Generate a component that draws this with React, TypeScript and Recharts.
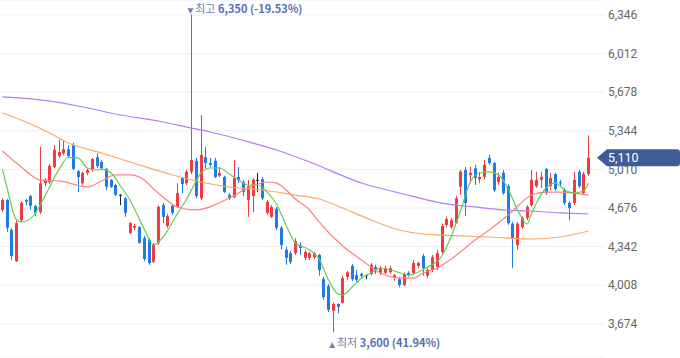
import React from 'react';
import {
  ComposedChart,
  Bar,
  Line,
  XAxis,
  YAxis,
  CartesianGrid,
  ReferenceLine,
  ReferenceDot,
} from 'recharts';

// ---- Candle data (daily OHLC) ----
const opens = [
  4660, 4745, 4485, 4215, 4570, 4745, 4780, 4695, 4640, 4890,
  4900, 5030, 5125, 5150, 5185, 5220, 4995, 4890, 4980, 5005,
  5115, 5075, 5015, 4920, 4875, 4790, 4760, 4460, 4505, 4510,
  4415, 4400, 4210, 4375, 4700, 4520, 4695, 4685, 4935, 4890,
  4990, 5085, 4760, 5115, 5065, 5085, 4955, 4945, 4790, 4770,
  4945, 4900, 4745, 4780, 4920, 4925, 4635, 4600, 4670, 4505,
  4315, 4285, 4285, 4355, 4245, 4245, 4250, 4270, 4060, 4000,
  3785, 3845, 3855, 4080, 4175, 4095, 4105, 4095, 4105, 4165,
  4115, 4115, 4120, 4070, 4060, 4010, 4115, 4115, 4175, 4260,
  4090, 4140, 4165, 4295, 4530, 4510, 4545, 4860, 5005, 4960,
  5020, 4925, 4945, 5110, 5065, 4900, 4980, 4865, 4540, 4355,
  4510, 4590, 4700, 4865, 4920, 5015, 4865, 4970, 4900, 4830,
  4720, 4720, 4990, 4805, 4970,
];
const highs = [
  4760, 4755, 4505, 4570, 4735, 4755, 4790, 4700, 5205, 4935,
  5055, 5220, 5265, 5255, 5220, 5240, 5005, 4990, 5015, 5110,
  5150, 5090, 5020, 4925, 4885, 4795, 4770, 4555, 4540, 4520,
  4435, 4415, 4375, 4700, 4720, 4625, 4710, 4890, 4945, 5005,
  6350, 5110, 5480, 5205, 5110, 5110, 5030, 4955, 4805, 5090,
  5030, 4920, 4920, 4935, 4980, 4945, 4745, 4700, 4685, 4520,
  4340, 4305, 4415, 4380, 4315, 4295, 4295, 4280, 4080, 4020,
  3860, 3850, 4090, 4130, 4190, 4140, 4115, 4100, 4200, 4185,
  4175, 4175, 4175, 4105, 4080, 4120, 4130, 4225, 4210, 4280,
  4155, 4270, 4315, 4540, 4600, 4590, 4780, 5005, 5030, 5030,
  5050, 4990, 5090, 5135, 5075, 4980, 5005, 4885, 4555, 4555,
  4605, 4700, 5005, 4990, 4990, 5020, 4980, 4980, 4920, 4850,
  4735, 4990, 5005, 4990, 5305,
];
const lows = [
  4640, 4470, 4225, 4210, 4555, 4700, 4660, 4605, 4625, 4865,
  4885, 5020, 5110, 5135, 5115, 5005, 4815, 4875, 4960, 4990,
  5020, 5005, 4830, 4850, 4780, 4700, 4600, 4450, 4485, 4365,
  4215, 4185, 4200, 4355, 4545, 4505, 4615, 4675, 4805, 4875,
  4970, 4760, 4745, 5020, 5030, 4935, 4945, 4805, 4745, 4760,
  4890, 4780, 4600, 4640, 4815, 4745, 4615, 4590, 4485, 4315,
  4185, 4190, 4270, 4270, 4225, 4225, 4235, 4090, 3880, 3775,
  3600, 3765, 3845, 4055, 4045, 4035, 4070, 4060, 4090, 4105,
  4095, 4105, 4105, 4045, 3990, 4000, 4080, 4095, 4155, 4090,
  4070, 4120, 4140, 4280, 4510, 4495, 4540, 4790, 4605, 4890,
  4875, 4890, 4925, 5050, 4815, 4875, 4790, 4530, 4155, 4315,
  4495, 4570, 4685, 4850, 4850, 4790, 4830, 4825, 4865, 4700,
  4570, 4700, 4850, 4790, 4955,
];
const closes = [
  4745, 4505, 4260, 4545, 4720, 4730, 4695, 4635, 4890, 4920,
  5040, 5180, 5160, 5185, 5125, 5015, 4945, 4980, 5005, 5100,
  5040, 5020, 4860, 4860, 4790, 4790, 4635, 4545, 4520, 4375,
  4235, 4200, 4355, 4685, 4600, 4605, 4635, 4805, 4885, 4990,
  5090, 4780, 5135, 5065, 5050, 4945, 4980, 4815, 4760, 4935,
  4920, 4815, 4865, 4920, 4920, 4760, 4730, 4685, 4505, 4355,
  4245, 4210, 4390, 4330, 4295, 4285, 4285, 4140, 3905, 3795,
  3845, 3820, 4070, 4120, 4060, 4055, 4090, 4095, 4185, 4140,
  4155, 4155, 4155, 4095, 4010, 4105, 4095, 4200, 4200, 4155,
  4140, 4250, 4285, 4520, 4580, 4570, 4760, 4990, 4720, 4980,
  4935, 4945, 5050, 5065, 4830, 4945, 4805, 4545, 4410, 4540,
  4590, 4685, 4920, 4920, 4945, 4805, 4935, 4840, 4890, 4720,
  4675, 4920, 4865, 4970, 5110,
];

// ---- Moving averages, [candle index, value] ----
const ma5Points = [
  [0, 5013], [1, 4849], [3, 4572], [4, 4555], [5, 4563], [7, 4633], [8, 4702],
  [10, 4858], [12, 5013], [14, 5113], [16, 5109], [18, 5022], [20, 5005],
  [21, 5013], [23, 4979], [25, 4866], [27, 4745], [30, 4494], [32, 4356],
  [34, 4425], [37, 4624], [39, 4754], [41, 4910], [42, 4979], [44, 5022],
  [46, 5022], [48, 4970], [50, 4918], [52, 4875], [54, 4875], [56, 4814],
  [58, 4711], [60, 4529], [62, 4373], [65, 4313], [67, 4235], [69, 4053],
  [71, 3932], [72, 3923], [74, 3992], [76, 4070], [78, 4113], [80, 4157],
  [83, 4131], [86, 4096], [88, 4122], [90, 4165], [93, 4261], [95, 4434],
  [97, 4659], [99, 4901], [101, 4979], [103, 4988], [105, 4962], [107, 4840],
  [109, 4659], [111, 4538], [112, 4633], [113, 4719], [115, 4849], [117, 4892],
  [119, 4832], [121, 4806], [123, 4823], [124, 4892],
];
const ma20Points = [
  [0, 5169], [4, 5031], [8, 4918], [12, 4910], [18, 4858], [21, 4910],
  [24, 4962], [27, 4962], [30, 4918], [32, 4840], [34, 4771], [37, 4685],
  [41, 4659], [48, 4762], [52, 4849], [56, 4901], [58, 4892], [62, 4754],
  [65, 4659], [67, 4555], [72, 4347], [76, 4226], [80, 4113], [84, 4070],
  [87, 4070], [89, 4113], [92, 4157], [95, 4235], [100, 4399], [103, 4486],
  [107, 4615], [112, 4788], [115, 4814], [118, 4814], [124, 4788],
];
const ma60Points = [
  [0, 5498], [5, 5420], [10, 5325], [14, 5238], [21, 5152], [29, 5048],
  [36, 4962], [41, 4910], [48, 4858], [55, 4832], [62, 4788], [67, 4754],
  [72, 4676], [78, 4572], [84, 4486], [89, 4451], [93, 4442], [103, 4425],
  [112, 4408], [118, 4425], [124, 4477],
];
const ma120Points = [
  [0, 5637], [8, 5611], [16, 5559], [25, 5481], [33, 5429], [40, 5368],
  [44, 5334], [53, 5238], [58, 5178], [65, 5074], [76, 4892], [84, 4806],
  [93, 4719], [100, 4685], [106, 4659], [112, 4650], [118, 4633], [124, 4624],
];

// ---- Axis / annotation values ----
const yTicks = [3674, 4008, 4342, 4676, 5010, 5344, 5678, 6012, 6346];
const yDomain = [3378, 6476];
const totalSlots = 128;
const lastPrice = 5110;
const highMark = { index: 40, price: 6350, label: '최고', pct: '-19.53%' };
const lowMark = { index: 70, price: 3600, label: '최저', pct: '41.94%' };

const RED = '#f23a40';
const BLUE = '#1f7ce6';
const DOJI = '#222222';
const FONT = 'Roboto, "Noto Sans CJK KR", "Noto Sans", sans-serif';
const KFONT = '"Noto Sans CJK KR", Roboto, sans-serif';

const fmt = (v: number) => v.toLocaleString('en-US');

const data = Array.from({ length: totalSlots }, (_, i) => {
  const row: any = { i };
  if (i < opens.length) {
    row.open = opens[i];
    row.high = highs[i];
    row.low = lows[i];
    row.close = closes[i];
  }
  return row;
});
const addMa = (pts: number[][], key: string) => {
  pts.forEach(([idx, v]) => {
    data[idx][key] = v;
  });
};
addMa(ma5Points, 'ma5');
addMa(ma20Points, 'ma20');
addMa(ma60Points, 'ma60');
addMa(ma120Points, 'ma120');

const Candle = (props: any) => {
  const { x, y, width, height, payload } = props;
  if (!payload || payload.high == null) return null;
  const { open, close, high, low } = payload;
  const top0 = Math.min(y, y + height);
  const h = Math.abs(height);
  const range = high - low;
  const k = range > 0 ? h / range : 0;
  const py = (v: number) => top0 + (high - v) * k;
  const color = close === open ? DOJI : close > open ? RED : BLUE;
  const left = Math.round(x);
  const cx = left + Math.floor(width / 2) + 0.5;
  const bTop = py(Math.max(open, close));
  const bBot = py(Math.min(open, close));
  return (
    <g>
      <line x1={cx} x2={cx} y1={top0} y2={top0 + h} stroke={color} strokeWidth={1} />
      <rect x={left} y={bTop} width={Math.round(width)} height={Math.max(1, bBot - bTop)} fill={color} />
    </g>
  );
};

const ExtremeLabel = (props: any) => {
  const { viewBox, mark, kind } = props;
  if (!viewBox) return null;
  const cx = viewBox.x + (viewBox.width || 0) / 2;
  const cy = viewBox.y + (viewBox.height || 0) / 2;
  const ty = kind === 'high' ? cy - 2 : cy + 15;
  const tri = kind === 'high' ? '▼' : '▲';
  return (
    <text x={cx - 4} y={ty} fontFamily={KFONT} fontSize={11}>
      <tspan fill="#6b7fb5" fontFamily='"DejaVu Sans", sans-serif' fontSize={7.5}>{tri}</tspan>
      <tspan fill="#6b7fb5" dx={2}>{mark.label} </tspan>
      <tspan fill="#5470b2" fontWeight="bold">{`${fmt(mark.price)} (${mark.pct})`}</tspan>
    </text>
  );
};

const PriceTag = (props: any) => {
  const { viewBox } = props;
  if (!viewBox) return null;
  const right = viewBox.x + viewBox.width;
  const y = viewBox.y;
  const tip = right - 8;
  const end = right + 75;
  const hh = 8.5;
  const d = `M${tip},${y} L${tip + 10},${y - hh} H${end - 3} Q${end},${y - hh} ${end},${y - hh + 3} V${y + hh - 3} Q${end},${y + hh} ${end - 3},${y + hh} H${tip + 10} Z`;
  return (
    <g>
      <path d={d} fill="#3f5b98" />
      <text x={tip + 11} y={y + 4.5} fill="#ffffff" fontFamily={FONT} fontSize={12.5}>
        {fmt(lastPrice)}
      </text>
    </g>
  );
};

export default function App() {
  return (
    <div style={{ position: 'absolute', left: 0, top: 0, width: 680, height: 358, background: '#fff' }}>
      <ComposedChart
        width={680}
        height={358}
        data={data}
        margin={{ top: 0, right: 0, bottom: 0, left: 0 }}
      >
        <CartesianGrid vertical={false} stroke="#eef0f5" />
        <XAxis dataKey="i" type="category" hide />
        <YAxis
          orientation="right"
          width={75}
          domain={yDomain}
          ticks={yTicks}
          interval={0}
          allowDataOverflow
          axisLine={false}
          tickLine={false}
          tickSize={0}
          tickMargin={3}
          tickFormatter={fmt}
          tick={{ fill: '#666', fontSize: 12, fontFamily: FONT }}
        />
        <Bar
          dataKey={(d: any) => (d.high != null ? [d.low, d.high] : null)}
          barSize={3}
          shape={<Candle />}
          isAnimationActive={false}
        />
        <Line dataKey="ma120" type="monotone" stroke="#b47cf3" strokeWidth={1.2} dot={false} activeDot={false} connectNulls isAnimationActive={false} />
        <Line dataKey="ma60" type="monotone" stroke="#f6aa66" strokeWidth={1.2} dot={false} activeDot={false} connectNulls isAnimationActive={false} />
        <Line dataKey="ma20" type="monotone" stroke="#f58686" strokeWidth={1.2} dot={false} activeDot={false} connectNulls isAnimationActive={false} />
        <Line dataKey="ma5" type="monotone" stroke="#66cc52" strokeWidth={1.2} dot={false} activeDot={false} connectNulls isAnimationActive={false} />
        <ReferenceDot
          x={highMark.index}
          y={highMark.price}
          r={0}
          fill="none"
          stroke="none"
          ifOverflow="visible"
          label={<ExtremeLabel mark={highMark} kind="high" />}
        />
        <ReferenceDot
          x={lowMark.index}
          y={lowMark.price}
          r={0}
          fill="none"
          stroke="none"
          ifOverflow="visible"
          label={<ExtremeLabel mark={lowMark} kind="low" />}
        />
        <ReferenceLine y={lastPrice} stroke="none" ifOverflow="visible" label={<PriceTag />} />
      </ComposedChart>
    </div>
  );
}
